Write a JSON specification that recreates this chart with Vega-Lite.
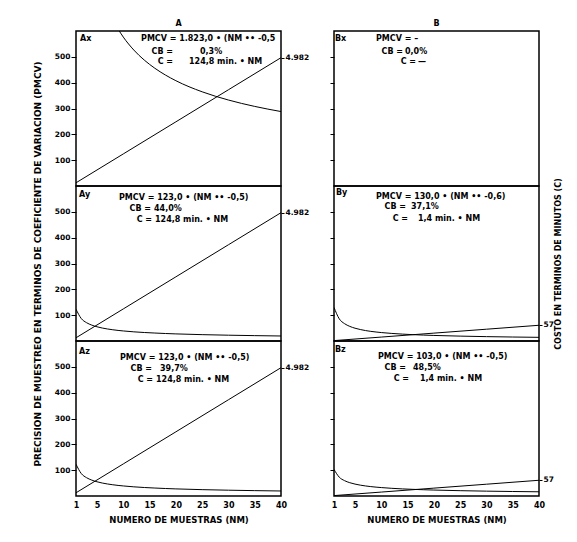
{
"$schema": "https://vega.github.io/schema/vega-lite/v6.json",
"background": "white",
"padding": {"left": 32, "top": 19, "right": 0, "bottom": 0},
"spacing": 18,
"config": {
  "view": {"stroke": "black", "strokeWidth": 1.5},
  "axis": {"domain": false, "grid": false, "tickColor": "black", "labelColor": "black", "titleColor": "black", "labelFont": "DejaVu Sans", "labelFontWeight": "bold", "labelFontSize": 7.5, "titleFont": "DejaVu Sans", "titleFontWeight": "bold", "titleFontSize": 9, "tickWidth": 1},
  "line": {"color": "black", "strokeWidth": 1},
  "text": {"font": "DejaVu Sans", "fontWeight": "bold", "fontSize": 8, "baseline": "middle", "color": "black"},
  "title": {"font": "DejaVu Sans", "fontWeight": "bold", "fontSize": 8, "color": "black", "offset": 3}
},
"datasets": {
  "pmcv": [
    {"p":"Ax","nm":1,"v":1823},{"p":"Ax","nm":2,"v":1289.1},{"p":"Ax","nm":3,"v":1052.5},{"p":"Ax","nm":4,"v":911.5},{"p":"Ax","nm":5,"v":815.3},{"p":"Ax","nm":6,"v":744.2},{"p":"Ax","nm":7,"v":689.0},{"p":"Ax","nm":8,"v":644.5},{"p":"Ax","nm":9,"v":607.7},{"p":"Ax","nm":10,"v":576.5},{"p":"Ax","nm":12,"v":526.3},{"p":"Ax","nm":14,"v":487.2},{"p":"Ax","nm":16,"v":455.8},{"p":"Ax","nm":18,"v":429.7},{"p":"Ax","nm":20,"v":407.6},{"p":"Ax","nm":25,"v":364.6},{"p":"Ax","nm":30,"v":332.8},{"p":"Ax","nm":35,"v":308.1},{"p":"Ax","nm":40,"v":288.2},
    {"p":"Ay","nm":1,"v":123},{"p":"Ay","nm":2,"v":87.0},{"p":"Ay","nm":3,"v":71.0},{"p":"Ay","nm":4,"v":61.5},{"p":"Ay","nm":5,"v":55.0},{"p":"Ay","nm":6,"v":50.2},{"p":"Ay","nm":7,"v":46.5},{"p":"Ay","nm":8,"v":43.5},{"p":"Ay","nm":9,"v":41.0},{"p":"Ay","nm":10,"v":38.9},{"p":"Ay","nm":12,"v":35.5},{"p":"Ay","nm":14,"v":32.9},{"p":"Ay","nm":16,"v":30.8},{"p":"Ay","nm":18,"v":29.0},{"p":"Ay","nm":20,"v":27.5},{"p":"Ay","nm":25,"v":24.6},{"p":"Ay","nm":30,"v":22.5},{"p":"Ay","nm":35,"v":20.8},{"p":"Ay","nm":40,"v":19.4},
    {"p":"Az","nm":1,"v":123},{"p":"Az","nm":2,"v":87.0},{"p":"Az","nm":3,"v":71.0},{"p":"Az","nm":4,"v":61.5},{"p":"Az","nm":5,"v":55.0},{"p":"Az","nm":6,"v":50.2},{"p":"Az","nm":7,"v":46.5},{"p":"Az","nm":8,"v":43.5},{"p":"Az","nm":9,"v":41.0},{"p":"Az","nm":10,"v":38.9},{"p":"Az","nm":12,"v":35.5},{"p":"Az","nm":14,"v":32.9},{"p":"Az","nm":16,"v":30.8},{"p":"Az","nm":18,"v":29.0},{"p":"Az","nm":20,"v":27.5},{"p":"Az","nm":25,"v":24.6},{"p":"Az","nm":30,"v":22.5},{"p":"Az","nm":35,"v":20.8},{"p":"Az","nm":40,"v":19.4},
    {"p":"By","nm":1,"v":130},{"p":"By","nm":2,"v":85.8},{"p":"By","nm":3,"v":67.2},{"p":"By","nm":4,"v":56.6},{"p":"By","nm":5,"v":49.5},{"p":"By","nm":6,"v":44.4},{"p":"By","nm":7,"v":40.4},{"p":"By","nm":8,"v":37.3},{"p":"By","nm":9,"v":34.8},{"p":"By","nm":10,"v":32.7},{"p":"By","nm":12,"v":29.3},{"p":"By","nm":14,"v":26.7},{"p":"By","nm":16,"v":24.6},{"p":"By","nm":18,"v":22.9},{"p":"By","nm":20,"v":21.5},{"p":"By","nm":25,"v":18.9},{"p":"By","nm":30,"v":16.9},{"p":"By","nm":35,"v":15.4},{"p":"By","nm":40,"v":14.2},
    {"p":"Bz","nm":1,"v":103},{"p":"Bz","nm":2,"v":72.8},{"p":"Bz","nm":3,"v":59.5},{"p":"Bz","nm":4,"v":51.5},{"p":"Bz","nm":5,"v":46.1},{"p":"Bz","nm":6,"v":42.0},{"p":"Bz","nm":7,"v":38.9},{"p":"Bz","nm":8,"v":36.4},{"p":"Bz","nm":9,"v":34.3},{"p":"Bz","nm":10,"v":32.6},{"p":"Bz","nm":12,"v":29.7},{"p":"Bz","nm":14,"v":27.5},{"p":"Bz","nm":16,"v":25.8},{"p":"Bz","nm":18,"v":24.3},{"p":"Bz","nm":20,"v":23.0},{"p":"Bz","nm":25,"v":20.6},{"p":"Bz","nm":30,"v":18.8},{"p":"Bz","nm":35,"v":17.4},{"p":"Bz","nm":40,"v":16.3}
  ],
  "cost": [
    {"g":"A","nm":1,"c":124.8},{"g":"A","nm":10,"c":1248},{"g":"A","nm":20,"c":2496},{"g":"A","nm":30,"c":3744},{"g":"A","nm":40,"c":4992},
    {"g":"B","nm":1,"c":1.4},{"g":"B","nm":10,"c":14},{"g":"B","nm":20,"c":28},{"g":"B","nm":30,"c":42},{"g":"B","nm":40,"c":56}
  ],
  "notes": [
    {"p":"Ax","k":"L","x":1.76,"y":569,"t":"Ax"},
    {"p":"Ax","k":"L","x":13.37,"y":569,"t":"PMCV = 1.823,0 • (NM •• -0,5"},
    {"p":"Ax","k":"R","x":19.46,"y":519,"t":"CB ="},
    {"p":"Ax","k":"L","x":24.59,"y":519,"t":"0,3%"},
    {"p":"Ax","k":"R","x":19.46,"y":480,"t":"C ="},
    {"p":"Ax","k":"L","x":22.5,"y":480,"t":"124,8 min. • NM"},
    {"p":"Ay","k":"L","x":1.57,"y":565,"t":"Ay"},
    {"p":"Ay","k":"L","x":9.18,"y":555,"t":"PMCV = 123,0 • (NM •• -0,5)"},
    {"p":"Ay","k":"R","x":15.27,"y":511,"t":"CB ="},
    {"p":"Ay","k":"L","x":15.84,"y":511,"t":"44,0%"},
    {"p":"Ay","k":"R","x":15.46,"y":468,"t":"C ="},
    {"p":"Ay","k":"L","x":16.03,"y":468,"t":"124,8 min. • NM"},
    {"p":"Az","k":"L","x":1.57,"y":557,"t":"Az"},
    {"p":"Az","k":"L","x":9.37,"y":534,"t":"PMCV = 123,0 • (NM •• -0,5)"},
    {"p":"Az","k":"R","x":15.46,"y":492,"t":"CB ="},
    {"p":"Az","k":"L","x":16.98,"y":492,"t":"39,7%"},
    {"p":"Az","k":"R","x":15.65,"y":449,"t":"C ="},
    {"p":"Az","k":"L","x":16.22,"y":449,"t":"124,8 min. • NM"},
    {"p":"Bx","k":"L","x":1.19,"y":569,"t":"Bx"},
    {"p":"Bx","k":"L","x":8.99,"y":569,"t":"PMCV = –"},
    {"p":"Bx","k":"R","x":14.13,"y":519,"t":"CB ="},
    {"p":"Bx","k":"L","x":14.51,"y":519,"t":"0,0%"},
    {"p":"Bx","k":"R","x":16.6,"y":480,"t":"C ="},
    {"p":"Bx","k":"L","x":16.98,"y":480,"t":"—"},
    {"p":"By","k":"L","x":1.38,"y":573,"t":"By"},
    {"p":"By","k":"L","x":8.99,"y":557,"t":"PMCV = 130,0 • (NM •• -0,6)"},
    {"p":"By","k":"R","x":14.7,"y":519,"t":"CB ="},
    {"p":"By","k":"L","x":15.65,"y":519,"t":"37,1%"},
    {"p":"By","k":"R","x":15.08,"y":472,"t":"C ="},
    {"p":"By","k":"L","x":16.98,"y":472,"t":"1,4 min. • NM"},
    {"p":"Bz","k":"L","x":1.19,"y":565,"t":"Bz"},
    {"p":"Bz","k":"L","x":9.37,"y":538,"t":"PMCV = 103,0 • (NM •• -0,5)"},
    {"p":"Bz","k":"R","x":14.7,"y":495,"t":"CB ="},
    {"p":"Bz","k":"L","x":16.03,"y":495,"t":"48,5%"},
    {"p":"Bz","k":"R","x":15.27,"y":453,"t":"C ="},
    {"p":"Bz","k":"L","x":17.36,"y":453,"t":"1,4 min. • NM"}
  ]
},
"hconcat": [
  {"spacing": 0, "bounds": "flush", "vconcat": [
    {"width": 205, "height": 155,
     "title": {"text": "A"},
     "layer": [
       {"data": {"name": "pmcv"}, "transform": [{"filter": "datum.p == 'Ax'"}],
        "mark": {"type": "line", "clip": true, "interpolate": "monotone"},
        "encoding": {"x": {"field": "nm", "type": "quantitative", "scale": {"domain": [1, 40], "nice": false, "zero": false}, "axis": null},
                     "y": {"field": "v", "type": "quantitative", "scale": {"domain": [0, 600], "nice": false}, "axis": {"values": [100, 200, 300, 400, 500], "tickSize": 5, "labelPadding": 1, "title": null}}}},
       {"data": {"name": "cost"}, "transform": [{"filter": "datum.g == 'A'"}],
        "mark": {"type": "line", "clip": true},
        "encoding": {"x": {"field": "nm", "type": "quantitative", "scale": {"domain": [1, 40], "nice": false, "zero": false}, "axis": null},
                     "y": {"field": "c", "type": "quantitative", "scale": {"domain": [0, 6030], "nice": false}, "axis": {"orient": "right", "values": [4982], "labelExpr": "'4.982'", "tickSize": 3, "labelPadding": 1, "title": null}}}},
       {"data": {"name": "notes"}, "transform": [{"filter": "datum.p == 'Ax' && datum.k == 'L'"}],
        "mark": {"type": "text", "align": "left"},
        "encoding": {"x": {"field": "x", "type": "quantitative", "scale": {"domain": [1, 40], "nice": false, "zero": false}, "axis": null},
                     "y": {"field": "y", "type": "quantitative", "scale": {"domain": [0, 600], "nice": false}, "axis": null},
                     "text": {"field": "t"}}},
       {"data": {"name": "notes"}, "transform": [{"filter": "datum.p == 'Ax' && datum.k == 'R'"}],
        "mark": {"type": "text", "align": "right"},
        "encoding": {"x": {"field": "x", "type": "quantitative", "scale": {"domain": [1, 40], "nice": false, "zero": false}, "axis": null},
                     "y": {"field": "y", "type": "quantitative", "scale": {"domain": [0, 600], "nice": false}, "axis": null},
                     "text": {"field": "t"}}}
     ],
     "resolve": {"scale": {"y": "independent"}}},
    {"width": 205, "height": 155,
     "layer": [
       {"data": {"name": "pmcv"}, "transform": [{"filter": "datum.p == 'Ay'"}],
        "mark": {"type": "line", "clip": true, "interpolate": "monotone"},
        "encoding": {"x": {"field": "nm", "type": "quantitative", "scale": {"domain": [1, 40], "nice": false, "zero": false}, "axis": null},
                     "y": {"field": "v", "type": "quantitative", "scale": {"domain": [0, 600], "nice": false}, "axis": {"values": [100, 200, 300, 400, 500], "tickSize": 5, "labelPadding": 1, "title": "PRECISION DE MUESTREO EN TERMINOS DE COEFICIENTE DE VARIACION (PMCV)", "titlePadding": 12}}}},
       {"data": {"name": "cost"}, "transform": [{"filter": "datum.g == 'A'"}],
        "mark": {"type": "line", "clip": true},
        "encoding": {"x": {"field": "nm", "type": "quantitative", "scale": {"domain": [1, 40], "nice": false, "zero": false}, "axis": null},
                     "y": {"field": "c", "type": "quantitative", "scale": {"domain": [0, 6030], "nice": false}, "axis": {"orient": "right", "values": [4982], "labelExpr": "'4.982'", "tickSize": 3, "labelPadding": 1, "title": null}}}},
       {"data": {"name": "notes"}, "transform": [{"filter": "datum.p == 'Ay' && datum.k == 'L'"}],
        "mark": {"type": "text", "align": "left"},
        "encoding": {"x": {"field": "x", "type": "quantitative", "scale": {"domain": [1, 40], "nice": false, "zero": false}, "axis": null},
                     "y": {"field": "y", "type": "quantitative", "scale": {"domain": [0, 600], "nice": false}, "axis": null},
                     "text": {"field": "t"}}},
       {"data": {"name": "notes"}, "transform": [{"filter": "datum.p == 'Ay' && datum.k == 'R'"}],
        "mark": {"type": "text", "align": "right"},
        "encoding": {"x": {"field": "x", "type": "quantitative", "scale": {"domain": [1, 40], "nice": false, "zero": false}, "axis": null},
                     "y": {"field": "y", "type": "quantitative", "scale": {"domain": [0, 600], "nice": false}, "axis": null},
                     "text": {"field": "t"}}}
     ],
     "resolve": {"scale": {"y": "independent"}}},
    {"width": 205, "height": 155,
     "layer": [
       {"data": {"name": "pmcv"}, "transform": [{"filter": "datum.p == 'Az'"}],
        "mark": {"type": "line", "clip": true, "interpolate": "monotone"},
        "encoding": {"x": {"field": "nm", "type": "quantitative", "scale": {"domain": [1, 40], "nice": false, "zero": false}, "axis": {"values": [1, 5, 10, 15, 20, 25, 30, 35, 40], "tickSize": 0, "labelPadding": 5, "labelFontSize": 8, "labelFlush": false, "title": "NUMERO DE MUESTRAS (NM)", "titleFontSize": 8.5, "titlePadding": 6}},
                     "y": {"field": "v", "type": "quantitative", "scale": {"domain": [0, 600], "nice": false}, "axis": {"values": [100, 200, 300, 400, 500], "tickSize": 5, "labelPadding": 1, "title": null}}}},
       {"data": {"name": "cost"}, "transform": [{"filter": "datum.g == 'A'"}],
        "mark": {"type": "line", "clip": true},
        "encoding": {"x": {"field": "nm", "type": "quantitative", "scale": {"domain": [1, 40], "nice": false, "zero": false}, "axis": {"values": [1, 5, 10, 15, 20, 25, 30, 35, 40], "tickSize": 0, "labelPadding": 5, "labelFontSize": 8, "labelFlush": false, "title": "NUMERO DE MUESTRAS (NM)", "titleFontSize": 8.5, "titlePadding": 6}},
                     "y": {"field": "c", "type": "quantitative", "scale": {"domain": [0, 6030], "nice": false}, "axis": {"orient": "right", "values": [4982], "labelExpr": "'4.982'", "tickSize": 3, "labelPadding": 1, "title": null}}}},
       {"data": {"name": "notes"}, "transform": [{"filter": "datum.p == 'Az' && datum.k == 'L'"}],
        "mark": {"type": "text", "align": "left"},
        "encoding": {"x": {"field": "x", "type": "quantitative", "scale": {"domain": [1, 40], "nice": false, "zero": false}, "axis": {"values": [1, 5, 10, 15, 20, 25, 30, 35, 40], "tickSize": 0, "labelPadding": 5, "labelFontSize": 8, "labelFlush": false, "title": "NUMERO DE MUESTRAS (NM)", "titleFontSize": 8.5, "titlePadding": 6}},
                     "y": {"field": "y", "type": "quantitative", "scale": {"domain": [0, 600], "nice": false}, "axis": null},
                     "text": {"field": "t"}}},
       {"data": {"name": "notes"}, "transform": [{"filter": "datum.p == 'Az' && datum.k == 'R'"}],
        "mark": {"type": "text", "align": "right"},
        "encoding": {"x": {"field": "x", "type": "quantitative", "scale": {"domain": [1, 40], "nice": false, "zero": false}, "axis": {"values": [1, 5, 10, 15, 20, 25, 30, 35, 40], "tickSize": 0, "labelPadding": 5, "labelFontSize": 8, "labelFlush": false, "title": "NUMERO DE MUESTRAS (NM)", "titleFontSize": 8.5, "titlePadding": 6}},
                     "y": {"field": "y", "type": "quantitative", "scale": {"domain": [0, 600], "nice": false}, "axis": null},
                     "text": {"field": "t"}}}
     ],
     "resolve": {"scale": {"y": "independent"}}}
  ]},
  {"spacing": 0, "bounds": "flush", "vconcat": [
    {"width": 205, "height": 155,
     "title": {"text": "B"},
     "layer": [
       {"data": {"name": "notes"}, "transform": [{"filter": "datum.p == 'Bx' && datum.k == 'L'"}],
        "mark": {"type": "text", "align": "left"},
        "encoding": {"x": {"field": "x", "type": "quantitative", "scale": {"domain": [1, 40], "nice": false, "zero": false}, "axis": null},
                     "y": {"field": "y", "type": "quantitative", "scale": {"domain": [0, 600], "nice": false}, "axis": {"values": [100, 200, 300, 400, 500], "tickSize": 4, "labels": false, "title": null}},
                     "text": {"field": "t"}}},
       {"data": {"name": "notes"}, "transform": [{"filter": "datum.p == 'Bx' && datum.k == 'R'"}],
        "mark": {"type": "text", "align": "right"},
        "encoding": {"x": {"field": "x", "type": "quantitative", "scale": {"domain": [1, 40], "nice": false, "zero": false}, "axis": null},
                     "y": {"field": "y", "type": "quantitative", "scale": {"domain": [0, 600], "nice": false}, "axis": null},
                     "text": {"field": "t"}}}
     ],
     "resolve": {"scale": {"y": "independent"}}},
    {"width": 205, "height": 155,
     "layer": [
       {"data": {"name": "pmcv"}, "transform": [{"filter": "datum.p == 'By'"}],
        "mark": {"type": "line", "clip": true, "interpolate": "monotone"},
        "encoding": {"x": {"field": "nm", "type": "quantitative", "scale": {"domain": [1, 40], "nice": false, "zero": false}, "axis": null},
                     "y": {"field": "v", "type": "quantitative", "scale": {"domain": [0, 600], "nice": false}, "axis": {"values": [100, 200, 300, 400, 500], "tickSize": 4, "labels": false, "title": null}}}},
       {"data": {"name": "cost"}, "transform": [{"filter": "datum.g == 'B'"}],
        "mark": {"type": "line", "clip": true},
        "encoding": {"x": {"field": "nm", "type": "quantitative", "scale": {"domain": [1, 40], "nice": false, "zero": false}, "axis": null},
                     "y": {"field": "c", "type": "quantitative", "scale": {"domain": [0, 552], "nice": false}, "axis": {"orient": "right", "values": [57], "tickSize": 3, "labelPadding": 1, "title": "COSTO EN TERMINOS DE MINUTOS (C)", "titleAngle": 270, "titleBaseline": "top", "titleFontSize": 8, "titlePadding": 1}}}},
       {"data": {"name": "notes"}, "transform": [{"filter": "datum.p == 'By' && datum.k == 'L'"}],
        "mark": {"type": "text", "align": "left"},
        "encoding": {"x": {"field": "x", "type": "quantitative", "scale": {"domain": [1, 40], "nice": false, "zero": false}, "axis": null},
                     "y": {"field": "y", "type": "quantitative", "scale": {"domain": [0, 600], "nice": false}, "axis": null},
                     "text": {"field": "t"}}},
       {"data": {"name": "notes"}, "transform": [{"filter": "datum.p == 'By' && datum.k == 'R'"}],
        "mark": {"type": "text", "align": "right"},
        "encoding": {"x": {"field": "x", "type": "quantitative", "scale": {"domain": [1, 40], "nice": false, "zero": false}, "axis": null},
                     "y": {"field": "y", "type": "quantitative", "scale": {"domain": [0, 600], "nice": false}, "axis": null},
                     "text": {"field": "t"}}}
     ],
     "resolve": {"scale": {"y": "independent"}}},
    {"width": 205, "height": 155,
     "layer": [
       {"data": {"name": "pmcv"}, "transform": [{"filter": "datum.p == 'Bz'"}],
        "mark": {"type": "line", "clip": true, "interpolate": "monotone"},
        "encoding": {"x": {"field": "nm", "type": "quantitative", "scale": {"domain": [1, 40], "nice": false, "zero": false}, "axis": {"values": [1, 5, 10, 15, 20, 25, 30, 35, 40], "tickSize": 0, "labelPadding": 5, "labelFontSize": 8, "labelFlush": false, "title": "NUMERO DE MUESTRAS (NM)", "titleFontSize": 8.5, "titlePadding": 6}},
                     "y": {"field": "v", "type": "quantitative", "scale": {"domain": [0, 600], "nice": false}, "axis": {"values": [100, 200, 300, 400, 500], "tickSize": 4, "labels": false, "title": null}}}},
       {"data": {"name": "cost"}, "transform": [{"filter": "datum.g == 'B'"}],
        "mark": {"type": "line", "clip": true},
        "encoding": {"x": {"field": "nm", "type": "quantitative", "scale": {"domain": [1, 40], "nice": false, "zero": false}, "axis": {"values": [1, 5, 10, 15, 20, 25, 30, 35, 40], "tickSize": 0, "labelPadding": 5, "labelFontSize": 8, "labelFlush": false, "title": "NUMERO DE MUESTRAS (NM)", "titleFontSize": 8.5, "titlePadding": 6}},
                     "y": {"field": "c", "type": "quantitative", "scale": {"domain": [0, 552], "nice": false}, "axis": {"orient": "right", "values": [57], "tickSize": 3, "labelPadding": 1, "title": null}}}},
       {"data": {"name": "notes"}, "transform": [{"filter": "datum.p == 'Bz' && datum.k == 'L'"}],
        "mark": {"type": "text", "align": "left"},
        "encoding": {"x": {"field": "x", "type": "quantitative", "scale": {"domain": [1, 40], "nice": false, "zero": false}, "axis": {"values": [1, 5, 10, 15, 20, 25, 30, 35, 40], "tickSize": 0, "labelPadding": 5, "labelFontSize": 8, "labelFlush": false, "title": "NUMERO DE MUESTRAS (NM)", "titleFontSize": 8.5, "titlePadding": 6}},
                     "y": {"field": "y", "type": "quantitative", "scale": {"domain": [0, 600], "nice": false}, "axis": null},
                     "text": {"field": "t"}}},
       {"data": {"name": "notes"}, "transform": [{"filter": "datum.p == 'Bz' && datum.k == 'R'"}],
        "mark": {"type": "text", "align": "right"},
        "encoding": {"x": {"field": "x", "type": "quantitative", "scale": {"domain": [1, 40], "nice": false, "zero": false}, "axis": {"values": [1, 5, 10, 15, 20, 25, 30, 35, 40], "tickSize": 0, "labelPadding": 5, "labelFontSize": 8, "labelFlush": false, "title": "NUMERO DE MUESTRAS (NM)", "titleFontSize": 8.5, "titlePadding": 6}},
                     "y": {"field": "y", "type": "quantitative", "scale": {"domain": [0, 600], "nice": false}, "axis": null},
                     "text": {"field": "t"}}}
     ],
     "resolve": {"scale": {"y": "independent"}}}
  ]}
]
}
